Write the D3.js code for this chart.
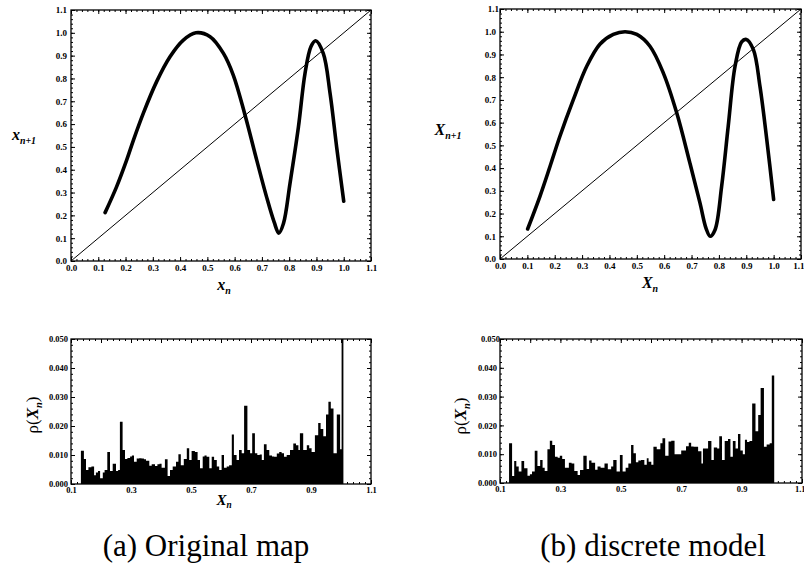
<!DOCTYPE html>
<html>
<head>
<meta charset="utf-8" />
<script src="https://cdn.jsdelivr.net/npm/d3@7"></script>
<style>
  body { margin: 0; background: #fff; }
  svg { display: block; }
  text { font-family: "Liberation Serif", "DejaVu Serif", serif; fill: #000; }
</style>
</head>
<body>
<svg id="chart" width="804" height="572"></svg>
<script>
// ---- data ----
var mapTicks = [0.0, 0.1, 0.2, 0.3, 0.4, 0.5, 0.6, 0.7, 0.8, 0.9, 1.0, 1.1];
var histXTicks = [0.1, 0.3, 0.5, 0.7, 0.9, 1.1];
var histYTicks = [0.000, 0.010, 0.020, 0.030, 0.040, 0.050];

var diagonal = [[0, 0], [1.1, 1.1]];

// (a) original map, points along the thick curve
var mapA = [[0.125, 0.212], [0.167, 0.325], [0.204, 0.442], [0.229, 0.53], [0.265, 0.647],
  [0.314, 0.786], [0.363, 0.895], [0.412, 0.968], [0.458, 1.0], [0.51, 0.983], [0.559, 0.91],
  [0.595, 0.815], [0.638, 0.64], [0.681, 0.442], [0.717, 0.281], [0.745, 0.17], [0.762, 0.122],
  [0.779, 0.164], [0.803, 0.34], [0.834, 0.588], [0.858, 0.822], [0.88, 0.94], [0.897, 0.965],
  [0.925, 0.91], [0.95, 0.734], [0.974, 0.5], [1.0, 0.262]];

// (b) discrete model
var mapB = [[0.101, 0.132], [0.146, 0.276], [0.183, 0.408], [0.219, 0.54], [0.268, 0.701],
  [0.317, 0.848], [0.365, 0.945], [0.414, 0.988], [0.457, 1.0], [0.5, 0.988], [0.548, 0.936],
  [0.597, 0.818], [0.646, 0.642], [0.694, 0.422], [0.731, 0.246], [0.753, 0.135], [0.768, 0.1],
  [0.786, 0.129], [0.81, 0.32], [0.834, 0.584], [0.859, 0.848], [0.883, 0.955], [0.9, 0.966],
  [0.926, 0.921], [0.95, 0.76], [0.975, 0.525], [1.0, 0.262]];

// histograms: [bin start, density]; each bin ends where the next starts
var histA = [[0.133,0.0115],[0.143,0.0086],[0.150,0.0048],[0.158,0.0058],[0.168,0.006],[0.177,0.003],
  [0.183,0.004],[0.190,0.0045],[0.197,0.002],[0.206,0.004],[0.212,0.0048],[0.221,0.011],[0.230,0.0045],
  [0.239,0.007],[0.250,0.0045],[0.257,0.0048],[0.263,0.0215],[0.272,0.0117],[0.280,0.0086],[0.288,0.009],
  [0.297,0.0095],[0.303,0.0098],[0.310,0.0077],[0.319,0.0088],[0.327,0.0089],[0.335,0.0088],[0.343,0.0085],
  [0.350,0.008],[0.361,0.0063],[0.369,0.0068],[0.380,0.0062],[0.388,0.0068],[0.395,0.007],[0.402,0.0056],
  [0.413,0.0085],[0.422,0.0028],[0.430,0.0048],[0.439,0.006],[0.450,0.0077],[0.458,0.0103],[0.466,0.0065],
  [0.476,0.0086],[0.486,0.0123],[0.494,0.0083],[0.502,0.0114],[0.513,0.011],[0.522,0.0083],[0.530,0.0054],
  [0.539,0.0095],[0.545,0.0098],[0.552,0.0094],[0.561,0.0054],[0.569,0.0094],[0.577,0.0083],[0.586,0.006],
  [0.594,0.0048],[0.602,0.01],[0.610,0.0056],[0.619,0.006],[0.627,0.0065],[0.636,0.0171],[0.643,0.01],
  [0.652,0.0083],[0.660,0.0117],[0.669,0.0106],[0.677,0.027],[0.688,0.0117],[0.697,0.0106],[0.704,0.0175],
  [0.713,0.0106],[0.721,0.01],[0.729,0.0102],[0.736,0.0083],[0.743,0.0137],[0.752,0.0117],[0.761,0.0098],
  [0.770,0.0095],[0.777,0.0094],[0.786,0.0105],[0.794,0.011],[0.802,0.0106],[0.810,0.0094],[0.819,0.01],
  [0.830,0.0117],[0.841,0.014],[0.850,0.0134],[0.858,0.0117],[0.863,0.0175],[0.874,0.0117],[0.886,0.0134],
  [0.894,0.0123],[0.902,0.011],[0.913,0.0168],[0.924,0.021],[0.932,0.019],[0.941,0.0165],[0.950,0.024],
  [0.958,0.0284],[0.966,0.026],[0.975,0.0106],[0.986,0.024],[0.997,0.012],[1.002,0.06]];
var histAEnd = 1.008;

var histB = [[0.130,0.0138],[0.140,0.0024],[0.147,0.0076],[0.154,0.0057],[0.162,0.004],[0.171,0.0076],
  [0.180,0.0051],[0.191,0.0025],[0.199,0.003],[0.206,0.004],[0.215,0.0112],[0.224,0.0059],[0.233,0.008],
  [0.241,0.0053],[0.248,0.0042],[0.257,0.0117],[0.265,0.0147],[0.273,0.0132],[0.282,0.0091],[0.291,0.0088],
  [0.298,0.0095],[0.306,0.0083],[0.315,0.0053],[0.328,0.007],[0.337,0.0068],[0.346,0.0042],[0.357,0.0028],
  [0.365,0.0045],[0.376,0.0095],[0.387,0.0049],[0.395,0.0078],[0.403,0.007],[0.415,0.0046],[0.423,0.0057],
  [0.433,0.0053],[0.446,0.0068],[0.457,0.0048],[0.468,0.0057],[0.475,0.008],[0.486,0.004],[0.497,0.0097],
  [0.506,0.004],[0.516,0.0053],[0.525,0.0068],[0.534,0.0132],[0.542,0.0103],[0.550,0.0072],[0.558,0.0078],
  [0.567,0.008],[0.578,0.0063],[0.586,0.0086],[0.592,0.0074],[0.601,0.0063],[0.608,0.0126],[0.619,0.0117],
  [0.631,0.0138],[0.638,0.0155],[0.647,0.0095],[0.658,0.0144],[0.667,0.0147],[0.678,0.01],[0.686,0.01],
  [0.700,0.0113],[0.716,0.0128],[0.725,0.014],[0.733,0.0127],[0.741,0.0126],[0.756,0.011],[0.767,0.0068],
  [0.772,0.012],[0.780,0.012],[0.789,0.0146],[0.800,0.008],[0.808,0.0123],[0.819,0.012],[0.826,0.0162],
  [0.835,0.008],[0.844,0.0146],[0.855,0.0153],[0.863,0.0091],[0.871,0.0146],[0.880,0.012],[0.888,0.017],
  [0.896,0.0113],[0.904,0.01],[0.911,0.015],[0.918,0.0142],[0.926,0.0146],[0.935,0.0276],[0.946,0.018],
  [0.955,0.0236],[0.963,0.033],[0.974,0.0126],[0.983,0.0134],[0.993,0.0138],[1.0,0.0373]];
var histBEnd = 1.008;

var captions = ['(a) Original map', '(b) discrete model'];

// ---- drawing ----
var svg = d3.select('#chart');
var font = '"Liberation Serif", "DejaVu Serif", serif';
var tickFont = '"DejaVu Serif", "Liberation Serif", serif';

// box with inward major/minor ticks on all four sides, labels on left and bottom
function drawFrame(g, x, y, o) {
  var xr = x.range(), yr = y.range();
  var sides = [
    {axis: d3.axisBottom(x), t: 'translate(0,' + yr[0] + ')', major: o.xMajor, minor: o.xMinor, fmt: o.xFmt, lab: true},
    {axis: d3.axisTop(x), t: 'translate(0,' + yr[1] + ')', major: o.xMajor, minor: o.xMinor, fmt: o.xFmt, lab: false},
    {axis: d3.axisLeft(y), t: 'translate(' + xr[0] + ',0)', major: o.yMajor, minor: o.yMinor, fmt: o.yFmt, lab: true},
    {axis: d3.axisRight(y), t: 'translate(' + xr[1] + ',0)', major: o.yMajor, minor: o.yMinor, fmt: o.yFmt, lab: false}
  ];
  sides.forEach(function(s) {
    g.append('g').attr('transform', s.t)
      .call(s.axis.tickValues(s.minor).tickSize(-2).tickFormat(''))
      .call(function(a) { a.select('.domain').remove(); });
    var ax = g.append('g').attr('transform', s.t)
      .call(s.axis.tickValues(s.major).tickSize(-4).tickPadding(o.pad)
        .tickFormat(s.lab ? s.fmt : ''))
      .call(function(a) { a.select('.domain').remove(); });
    ax.attr('font-family', tickFont).attr('font-size', o.fs).attr('font-weight', 'bold');
    // last bottom label sits at the page edge: keep it inside
    if (s.lab && o.clampLast) ax.selectAll('.tick:last-of-type text').attr('text-anchor', 'end').attr('dx', 3);
  });
  g.selectAll('.tick line').attr('stroke', '#000').attr('stroke-width', 1);
  g.append('rect').attr('x', xr[0]).attr('y', yr[1])
    .attr('width', xr[1] - xr[0]).attr('height', yr[0] - yr[1])
    .attr('fill', 'none').attr('stroke', '#000').attr('stroke-width', 1.3);
}

function subLabel(g, px, py, main, sub, size, rotate) {
  var t = g.append('text').attr('transform', 'translate(' + px + ',' + py + ')' + (rotate ? ' rotate(-90)' : ''))
    .attr('text-anchor', 'middle').attr('font-family', font).attr('font-size', size)
    .attr('font-weight', 'bold');
  if (main.pre) t.append('tspan').text(main.pre).attr('font-weight', 'normal');
  t.append('tspan').text(main.sym).attr('font-style', 'italic');
  t.append('tspan').text(sub).attr('font-size', size * 0.62).attr('font-style', 'italic').attr('dy', size * 0.22);
  if (main.post) t.append('tspan').text(main.post).attr('font-weight', 'normal').attr('dy', -size * 0.22);
}

var fmt1 = d3.format('.1f'), fmt3 = d3.format('.3f');
var mapMinor = d3.range(0, 1.1001, 0.02);

function mapPanel(data, box, labels) {
  var g = svg.append('g');
  var x = d3.scaleLinear().domain([0, 1.1]).range([box.x0, box.x1]);
  var y = d3.scaleLinear().domain([0, 1.1]).range([box.y1, box.y0]);
  var ln = d3.line().curve(d3.curveCatmullRom.alpha(0.5))
    .x(function(d) { return x(d[0]); }).y(function(d) { return y(d[1]); });
  g.append('path').datum(diagonal).attr('d', ln).attr('fill', 'none')
    .attr('stroke', '#000').attr('stroke-width', 1);
  g.append('path').datum(data).attr('d', ln).attr('fill', 'none')
    .attr('stroke', '#000').attr('stroke-width', 3.6).attr('stroke-linecap', 'round');
  drawFrame(g, x, y, {xMajor: mapTicks, xMinor: mapMinor, yMajor: mapTicks, yMinor: mapMinor,
    xFmt: fmt1, yFmt: fmt1, fs: 9, pad: 4, clampLast: labels.clampLast});
  subLabel(g, labels.yx, labels.yy, {sym: labels.sym}, 'n+1', labels.size);
  subLabel(g, labels.xx, labels.xy, {sym: labels.sym}, 'n', labels.size);
}

function histPanel(data, end, box, labels) {
  var g = svg.append('g');
  var x = d3.scaleLinear().domain([0.1, 1.1]).range([box.x0, box.x1]);
  var y = d3.scaleLinear().domain([0, 0.05]).range([box.y1, box.y0]);
  var clipId = 'clip' + labels.id;
  g.append('clipPath').attr('id', clipId).append('rect')
    .attr('x', box.x0).attr('y', box.y0).attr('width', box.x1 - box.x0).attr('height', box.y1 - box.y0);
  // bars drawn as one stepped shape so neighbouring bins merge without seams
  var steps = data.concat([[end, 0]]);
  var area = d3.area().curve(d3.curveStepAfter)
    .x(function(d) { return x(d[0]); }).y0(y(0)).y1(function(d) { return y(d[1]); });
  g.append('path').datum(steps).attr('d', area).attr('fill', '#000')
    .attr('clip-path', 'url(#' + clipId + ')');
  drawFrame(g, x, y, {xMajor: d3.range(0.1, 1.1001, 0.1), xMinor: d3.range(0.1, 1.1001, 0.02),
    yMajor: histYTicks, yMinor: d3.range(0, 0.05001, 0.002),
    xFmt: function(v) { return histXTicks.some(function(t) { return Math.abs(t - v) < 1e-6; }) ? fmt1(v) : ''; },
    yFmt: fmt3, fs: 8.5, pad: 3, clampLast: labels.clampLast});
  subLabel(g, labels.yx, labels.yy, {pre: 'ρ(', sym: 'X', post: ')'}, 'n', 17, true);
  var xl = g.append('g');
  if (labels.clipX) {
    g.append('clipPath').attr('id', clipId + 'x').append('rect')
      .attr('x', labels.xx - 20).attr('y', labels.xy - 20).attr('width', 40).attr('height', labels.clipX);
    xl.attr('clip-path', 'url(#' + clipId + 'x)');
  }
  subLabel(xl, labels.xx, labels.xy, {sym: 'X'}, 'n', 15);
}

mapPanel(mapA, {x0: 71, x1: 371, y0: 10, y1: 261},
  {sym: 'x', size: 16, yx: 24, yy: 140, xx: 224, xy: 290});
mapPanel(mapB, {x0: 500, x1: 801, y0: 9, y1: 259},
  {sym: 'X', size: 16, yx: 448, yy: 135, xx: 650, xy: 288, clampLast: true});
histPanel(histA, histAEnd, {x0: 71, x1: 371, y0: 339, y1: 484},
  {id: 'a', yx: 38, yy: 415, xx: 224, xy: 505});
histPanel(histB, histBEnd, {x0: 500, x1: 802, y0: 339, y1: 483},
  {id: 'b', yx: 466, yy: 416, xx: 652, xy: 507, clipX: 10, clampLast: true});

svg.selectAll('text.caption').data(captions).join('text')
  .attr('class', 'caption')
  .attr('x', function(d, i) { return i === 0 ? 206 : 653; })
  .attr('y', 556)
  .attr('text-anchor', 'middle')
  .attr('font-family', font)
  .attr('font-size', 31)
  .text(function(d) { return d; });
</script>
</body>
</html>
